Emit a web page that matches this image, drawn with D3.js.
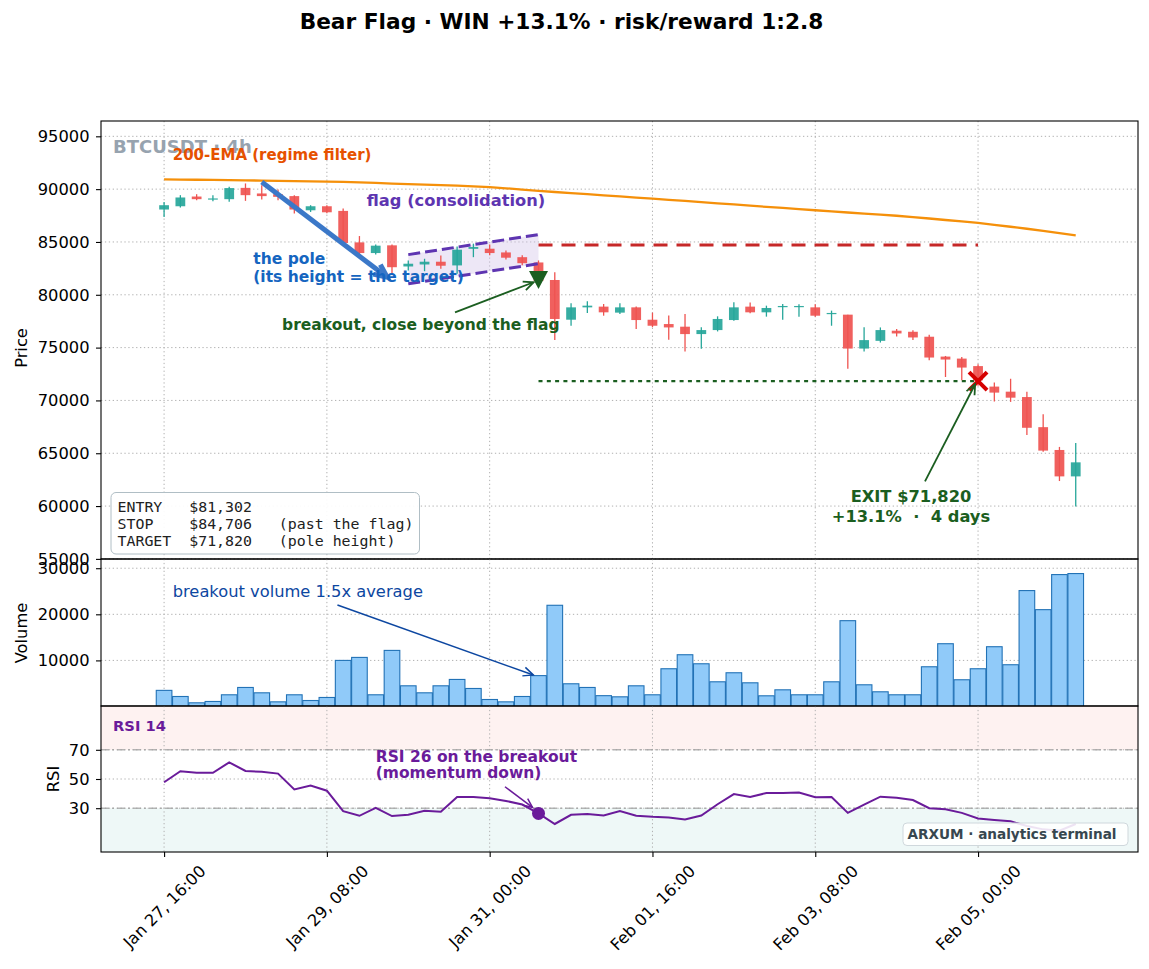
<!DOCTYPE html>
<html>
<head>
<meta charset="utf-8">
<script src="https://cdn.jsdelivr.net/npm/d3@7"></script>
<style>
  body { margin: 0; background: #fff; }
  text { font-family: "DejaVu Sans", sans-serif; }
</style>
</head>
<body>
<div id="chart"></div>
<script>
// ---- data ----
const startTime = "2025-01-27T16:00:00Z"
const stepHours = 4
const opens  = [88070,88380,89300,89050,89050,90120,89590,89520,89340,88000,88380,87940,84960,83950,84680,82680,82870,83130,82780,84350,84360,84010,83560,83060,81400,77640,78810,78880,78310,78810,77640,77230,76980,76280,76660,77610,78880,78340,78880,78880,78810,78200,78120,74910,75640,76600,76500,76030,74150,73960,73250,71310,70830,70320,67470,65310,62810]
const highs  = [88790,89430,89520,89430,90220,90540,90380,89970,89430,88480,88480,88170,85560,84770,84770,83250,83410,83730,84580,84840,84770,84200,83750,83250,82140,79190,79380,79130,79190,78880,78310,78050,78190,76930,77960,79290,79280,78970,79130,79100,79100,78500,78120,76930,76910,76760,76650,76220,74210,74120,73430,71690,72050,70830,68690,65600,65980]
const lows   = [87370,88260,88950,88860,88800,88890,89020,88950,87690,87840,87720,84770,83500,83820,81990,82300,82230,82460,81990,83560,83750,83350,82800,81100,75710,77070,78280,78020,78180,76760,76930,75750,74630,74880,76530,77550,78250,77930,77640,77930,77930,77070,73010,74630,75480,76050,75710,73800,72220,71900,71400,69910,69860,66720,65150,62370,59960]
const closes = [88480,89210,89050,89120,90100,89430,89340,89270,88070,88380,87810,84900,83950,84650,82610,82940,83130,82750,84270,84520,83950,83510,82990,81302,77710,78810,78970,78340,78810,77610,77070,76910,76280,76660,77710,78810,78340,78750,78940,78940,78020,78280,74910,75710,76660,76340,75960,74060,73870,73110,71900,70740,70260,67410,65250,62810,64140]
const volumes = [3500,2170,800,1090,2540,4130,2970,1010,2540,1300,1960,10000,10650,2540,12170,4490,2970,4490,5870,3910,1520,1010,2170,6700,21960,4930,4130,2350,2100,4490,2540,8190,11230,9270,5360,7320,5140,2320,3620,2540,2540,5360,18620,4710,3190,2540,2540,8620,13620,5800,8190,12970,9060,25150,21010,28620,28840]
const ema200 = [90920,90905,90890,90870,90850,90830,90810,90790,90765,90740,90710,90680,90640,90590,90530,90480,90430,90380,90330,90260,90190,90080,89960,89840,89730,89620,89520,89410,89310,89200,89100,88990,88880,88770,88660,88550,88430,88320,88220,88110,88000,87900,87790,87690,87590,87480,87350,87220,87080,86940,86800,86620,86440,86250,86050,85840,85630]
const rsi14 = [47.8,55.3,54.2,54.2,61.4,55.5,54.9,53.7,42.9,45.6,42.0,28.0,24.8,30.2,24.6,25.5,28.2,27.5,37.7,37.7,36.8,35.0,32.5,26.4,19.2,25.5,26.1,25.0,28.0,24.8,24.1,23.7,22.3,25.0,32.7,39.7,37.7,40.4,40.4,40.8,37.5,37.7,26.8,32.5,37.9,37.2,35.6,30.0,29.3,26.8,23.0,21.9,21.0,17.8,15.5,14.6,19.2]

const tickTimes = ["2025-01-27T16:00:00Z","2025-01-29T08:00:00Z","2025-01-31T00:00:00Z","2025-02-01T16:00:00Z","2025-02-03T08:00:00Z","2025-02-05T00:00:00Z"]
const priceTicks = [55000,60000,65000,70000,75000,80000,85000,90000,95000]
const volumeTicks = [10000,20000,30000]
const rsiTicks = [30,50,70]

// trade levels
const breakoutIndex = 23
const exitIndex = 50
const entryPrice = 81302
const stopPrice = 84706
const targetPrice = 71820
const flagStart = 15
const flagUpper = [83800, 85700]
const flagLower = [81040, 82940]

// ---- layout ----
width = 1149
height = 969
plotLeft = 101
plotRight = 1138
panels = {
  price: {top: 121, bottom: 559},
  vol: {top: 559, bottom: 706},
  rsi: {top: 706, bottom: 852}
}
up = "#26a69a"
down = "#ef5350"
gridColor = "#b0b0b0"
tickFont = 16.3

const hour = 3600e3
const t0 = new Date(startTime).getTime()
const at = i => new Date(t0 + i * stepHours * hour)
const times = opens.map((d, i) => at(i))

x = d3.scaleUtc()
  .domain([new Date(t0 - 15.5 * hour), new Date(t0 + 239.3 * hour)])
  .range([plotLeft, plotRight])
y = d3.scaleLinear().domain([54990, 96450]).range([panels.price.bottom, panels.price.top])
yVol = d3.scaleLinear().domain([0, 32000]).range([706.5, panels.vol.top])
yRsi = d3.scaleLinear().domain([0, 100]).range([panels.rsi.bottom, panels.rsi.top])

const svg = d3.select("#chart").append("svg")
  .attr("width", width)
  .attr("height", height)

const defs = svg.append("defs")
Object.entries(panels).forEach(([k, p]) => {
  defs.append("clipPath").attr("id", "clip-" + k)
    .append("rect")
    .attr("x", plotLeft).attr("y", p.top)
    .attr("width", plotRight - plotLeft).attr("height", p.bottom - p.top)
})

// title
svg.append("text")
  .attr("x", 561.5).attr("y", 29)
  .attr("text-anchor", "middle")
  .style("font-size", "21.7px").style("font-weight", "bold")
  .text("Bear Flag · WIN +13.1% · risk/reward 1:2.8")

function arrow(g, x1, y1, x2, y2, color, sw, len, half) {
  g.append("line")
    .attr("x1", x1).attr("y1", y1).attr("x2", x2).attr("y2", y2)
    .attr("stroke", color).attr("stroke-width", sw)
  const a = Math.atan2(y2 - y1, x2 - x1)
  const bx = x2 - len * Math.cos(a), by = y2 - len * Math.sin(a)
  const px = -Math.sin(a) * half, py = Math.cos(a) * half
  g.append("path")
    .attr("d", `M${bx + px},${by + py}L${x2},${y2}L${bx - px},${by - py}`)
    .attr("fill", "none").attr("stroke", color).attr("stroke-width", sw)
    .attr("stroke-linejoin", "miter")
}

function grid(key, yScale, ticks) {
  const p = panels[key]
  const g = svg.append("g")
    .attr("stroke", gridColor).attr("stroke-width", 1)
    .attr("stroke-dasharray", "1.3,2.6")
  g.selectAll(".vg").data(tickTimes).enter().append("line")
    .attr("x1", d => x(new Date(d))).attr("x2", d => x(new Date(d)))
    .attr("y1", p.top).attr("y2", p.bottom)
  g.selectAll(".hg").data(ticks).enter().append("line")
    .attr("x1", plotLeft).attr("x2", plotRight)
    .attr("y1", d => yScale(d)).attr("y2", d => yScale(d))
}

function leftAxis(yScale, ticks) {
  svg.append("g")
    .attr("transform", `translate(${plotLeft},0)`)
    .call(d3.axisLeft(yScale).tickValues(ticks).tickSize(5).tickPadding(6.5).tickFormat(d3.format("d")))
    .call(g => g.select(".domain").remove())
    .call(g => g.selectAll("text").style("font-size", tickFont + "px").style("font-family", "DejaVu Sans").attr("fill", "#000"))
    .call(g => g.selectAll("line").attr("stroke", "#000").attr("stroke-width", 1.1))
}

function frame(key) {
  const p = panels[key]
  svg.append("rect")
    .attr("x", plotLeft).attr("y", p.top)
    .attr("width", plotRight - plotLeft).attr("height", p.bottom - p.top)
    .attr("fill", "none").attr("stroke", "#000").attr("stroke-width", 1.1)
}

function yLabel(txt, cx, cy) {
  svg.append("text")
    .attr("transform", `translate(${cx + 5.8},${cy}) rotate(-90)`)
    .attr("text-anchor", "middle")
    .style("font-size", "16.3px")
    .text(txt)
}

// ================= PRICE PANEL =================
grid("price", y, priceTicks)
const priceG = svg.append("g").attr("clip-path", "url(#clip-price)")

// flag channel
const flagPts = [
  [at(flagStart), flagUpper[0]], [at(breakoutIndex), flagUpper[1]],
  [at(breakoutIndex), flagLower[1]], [at(flagStart), flagLower[0]]
]
priceG.append("path")
  .attr("d", d3.line().x(d => x(d[0])).y(d => y(d[1]))(flagPts) + "Z")
  .attr("fill", "#d1c4e9").attr("fill-opacity", 0.4)

// stop / target lines
priceG.append("line")
  .attr("x1", x(at(breakoutIndex))).attr("x2", x(at(exitIndex)))
  .attr("y1", y(stopPrice)).attr("y2", y(stopPrice))
  .attr("stroke", "#c62828").attr("stroke-width", 3).attr("stroke-dasharray", "14,9")
priceG.append("line")
  .attr("x1", x(at(breakoutIndex))).attr("x2", x(at(exitIndex)))
  .attr("y1", y(targetPrice)).attr("y2", y(targetPrice))
  .attr("stroke", "#1b5e20").attr("stroke-width", 2.2).attr("stroke-dasharray", "4,4.3")

// EMA
priceG.append("path")
  .datum(ema200)
  .attr("d", d3.line().x((d, i) => x(times[i])).y(d => y(d)))
  .attr("fill", "none").attr("stroke", "#f5900a").attr("stroke-width", 2.3)

// candles
const candles = times.map((t, i) => ({t, o: opens[i], h: highs[i], l: lows[i], c: closes[i]}))
const step = x(at(1)) - x(at(0))
const bodyW = step * 0.6
priceG.selectAll(".wick").data(candles).enter().append("line")
  .attr("x1", d => x(d.t)).attr("x2", d => x(d.t))
  .attr("y1", d => y(d.h)).attr("y2", d => y(d.l))
  .attr("stroke", d => d.c >= d.o ? up : down).attr("stroke-width", 1.3)
priceG.selectAll(".body").data(candles).enter().append("rect")
  .attr("x", d => x(d.t) - bodyW / 2)
  .attr("y", d => y(Math.max(d.o, d.c)))
  .attr("width", bodyW)
  .attr("height", d => Math.max(1.2, Math.abs(y(d.o) - y(d.c))))
  .attr("fill", d => d.c >= d.o ? up : down)
  .attr("fill-opacity", 0.92)

// flag dashed edges
priceG.append("line")
  .attr("x1", x(at(flagStart))).attr("y1", y(flagUpper[0]))
  .attr("x2", x(at(breakoutIndex))).attr("y2", y(flagUpper[1]))
  .attr("stroke", "#5e35b1").attr("stroke-width", 3).attr("stroke-dasharray", "12,5")
priceG.append("line")
  .attr("x1", x(at(flagStart))).attr("y1", y(flagLower[0]))
  .attr("x2", x(at(breakoutIndex))).attr("y2", y(flagLower[1]))
  .attr("stroke", "#5e35b1").attr("stroke-width", 3).attr("stroke-dasharray", "12,5")

// pole arrow
arrow(priceG, x(at(6)), y(90670), x(at(13.7)), y(81660), "#3b78c8", 5, 13, 6)

// entry marker
const ex = x(at(breakoutIndex)), ey = y(entryPrice)
priceG.append("path")
  .attr("d", `M${ex - 9.5},${ey - 10}L${ex + 9.5},${ey - 10}L${ex},${ey + 8}Z`)
  .attr("fill", "#1b5e20")

// exit marker
const xx = x(at(exitIndex)), xy = y(targetPrice)
priceG.append("path")
  .attr("d", `M${xx - 9},${xy - 9}L${xx + 9},${xy + 9}M${xx - 9},${xy + 9}L${xx + 9},${xy - 9}`)
  .attr("stroke", "#d50000").attr("stroke-width", 4)

// annotations
svg.append("text")
  .attr("x", plotLeft + 12).attr("y", panels.price.top + 32)
  .style("font-size", "18px").style("font-weight", "bold").attr("fill", "#97a3af")
  .text("BTCUSDT · 4h")
svg.append("text")
  .attr("x", x(at(0.53))).attr("y", y(92757))
  .style("font-size", "15px").style("font-weight", "bold").attr("fill", "#e65100")
  .text("200-EMA (regime filter)")
svg.append("text")
  .attr("x", x(at(12.45))).attr("y", y(88413))
  .style("font-size", "16.3px").style("font-weight", "bold").attr("fill", "#5e35b1")
  .text("flag (consolidation)")
const poleText = svg.append("text")
  .attr("x", x(at(5.48))).attr("y", y(82870))
  .style("font-size", "15.5px").style("font-weight", "bold").attr("fill", "#1565c0")
poleText.append("tspan").text("the pole")
poleText.append("tspan").attr("x", x(at(5.48))).attr("dy", 17.5).text("(its height = the target)")

arrow(svg, x(at(17.87)), y(78336), x(at(22.7)), y(81188), "#1b5e20", 1.8, 10, 4.5)
svg.append("text")
  .attr("x", x(at(7.25))).attr("y", y(76645))
  .style("font-size", "15.5px").style("font-weight", "bold").attr("fill", "#1b5e20")
  .text("breakout, close beyond the flag")

arrow(svg, x(at(46.74)), y(62337), x(at(49.82)), y(71530), "#1b5e20", 1.8, 10, 4.5)
const exitText = svg.append("text")
  .attr("x", x(at(45.88))).attr("y", y(60370))
  .attr("text-anchor", "middle")
  .style("font-size", "16.3px").style("font-weight", "bold").attr("fill", "#1b5e20")
  .style("white-space", "pre")
exitText.append("tspan").text("EXIT $" + d3.format(",")(targetPrice))
exitText.append("tspan").attr("x", x(at(45.88))).attr("dy", 20).text("+13.1%  ·  4 days")

// trade box
const boxLines = [
  "ENTRY   $" + d3.format(",")(entryPrice),
  "STOP    $" + d3.format(",")(stopPrice) + "   (past the flag)",
  "TARGET  $" + d3.format(",")(targetPrice) + "   (pole height)"
]
svg.append("rect")
  .attr("x", plotLeft + 10).attr("y", panels.price.bottom - 66.5)
  .attr("width", 308.5).attr("height", 61.5).attr("rx", 5)
  .attr("fill", "#fff").attr("fill-opacity", 0.92)
  .attr("stroke", "#b0bec5").attr("stroke-width", 1)
svg.append("g").selectAll("text").data(boxLines).enter().append("text")
  .attr("x", plotLeft + 16.5)
  .attr("y", (d, i) => panels.price.bottom - 47.5 + i * 17)
  .style("font-family", "'DejaVu Sans Mono', monospace").style("font-size", "14.9px")
  .style("white-space", "pre").attr("fill", "#212121")
  .text(d => d)

leftAxis(y, priceTicks)
frame("price")
yLabel("Price", 21, 348)

// ================= VOLUME PANEL =================
grid("vol", yVol, volumeTicks)
const volG = svg.append("g").attr("clip-path", "url(#clip-vol)")
const barW = step * 0.96
volG.selectAll("rect").data(volumes).enter().append("rect")
  .attr("x", (d, i) => x(times[i]) - barW / 2)
  .attr("y", d => yVol(d))
  .attr("width", barW)
  .attr("height", d => yVol(0) - yVol(d))
  .attr("fill", "#90caf9")
  .attr("stroke", "#2272b6").attr("stroke-width", 1.1)

arrow(svg, x(at(10.65)), yVol(22018), x(at(22.68)), yVol(6833), "#0d47a1", 1.5, 10, 4.5)
svg.append("text")
  .attr("x", x(at(0.53))).attr("y", yVol(23690))
  .style("font-size", "16.3px").attr("fill", "#0d47a1")
  .text("breakout volume 1.5x average")

leftAxis(yVol, volumeTicks)
frame("vol")
yLabel("Volume", 21, 633)

// ================= RSI PANEL =================
const rsiBg = svg.append("g")
rsiBg.append("rect")
  .attr("x", plotLeft).attr("width", plotRight - plotLeft)
  .attr("y", yRsi(100)).attr("height", yRsi(70) - yRsi(100))
  .attr("fill", down).attr("fill-opacity", 0.08)
rsiBg.append("rect")
  .attr("x", plotLeft).attr("width", plotRight - plotLeft)
  .attr("y", yRsi(30)).attr("height", yRsi(0) - yRsi(30))
  .attr("fill", up).attr("fill-opacity", 0.08)
grid("rsi", yRsi, rsiTicks)
svg.append("g").selectAll("line").data([70, 30]).enter().append("line")
  .attr("x1", plotLeft).attr("x2", plotRight)
  .attr("y1", d => yRsi(d)).attr("y2", d => yRsi(d))
  .attr("stroke", "#9e9e9e").attr("stroke-opacity", 0.75).attr("stroke-width", 1.5)
  .attr("stroke-dasharray", "8,3,2,3")

const rsiG = svg.append("g").attr("clip-path", "url(#clip-rsi)")
rsiG.append("path")
  .datum(rsi14)
  .attr("d", d3.line().x((d, i) => x(times[i])).y(d => yRsi(d)))
  .attr("fill", "none").attr("stroke", "#6a1b9a").attr("stroke-width", 2)
rsiG.append("circle")
  .attr("cx", x(times[breakoutIndex])).attr("cy", yRsi(rsi14[breakoutIndex]))
  .attr("r", 6.5).attr("fill", "#6a1b9a")

arrow(svg, x(at(20.94)), yRsi(44.7), x(at(22.63)), yRsi(30.6), "#6a1b9a", 1.5, 9, 4)
const rsiText = svg.append("text")
  .attr("x", x(at(13.0))).attr("y", yRsi(61.8))
  .style("font-size", "15.5px").style("font-weight", "bold").attr("fill", "#6a1b9a")
rsiText.append("tspan").text("RSI " + Math.round(rsi14[breakoutIndex]) + " on the breakout")
rsiText.append("tspan").attr("x", x(at(13.0))).attr("dy", 16.6).text("(momentum down)")

svg.append("text")
  .attr("x", plotLeft + 12).attr("y", panels.rsi.top + 24.7)
  .style("font-size", "14.7px").style("font-weight", "bold").attr("fill", "#6a1b9a")
  .text("RSI 14")

// watermark box
svg.append("rect")
  .attr("x", 903).attr("y", panels.rsi.bottom - 29)
  .attr("width", 225).attr("height", 22.5).attr("rx", 4)
  .attr("fill", "#fff").attr("fill-opacity", 0.88)
  .attr("stroke", "#cfd8dc").attr("stroke-width", 1)
svg.append("text")
  .attr("x", 907.5).attr("y", panels.rsi.bottom - 12.7)
  .style("font-size", "13.6px").style("font-weight", "bold").attr("fill", "#37474f")
  .text("ARXUM · analytics terminal")

leftAxis(yRsi, rsiTicks)
frame("rsi")
yLabel("RSI", 53, 779)

// ---- shared time axis ----
const fmt = d3.utcFormat("%b %d, %H:%M")
const xAxisG = svg.append("g")
  .attr("transform", `translate(0,${panels.rsi.bottom})`)
  .call(d3.axisBottom(x).tickValues(tickTimes.map(d => new Date(d))).tickSize(5).tickFormat(fmt))
xAxisG.select(".domain").remove()
xAxisG.selectAll("line").attr("stroke", "#000").attr("stroke-width", 1.1)
xAxisG.selectAll("text")
  .style("font-size", tickFont + "px").style("font-family", "DejaVu Sans").attr("fill", "#000")
  .attr("y", 0).attr("dy", null)
  .attr("text-anchor", "middle")
  .attr("dominant-baseline", "central")
  .attr("transform", function () {
    const L = this.getComputedTextLength()
    const H = (L + tickFont * 1.16) * Math.SQRT1_2
    return `translate(0,${9.7 + H / 2}) rotate(-45)`
  })
</script>
</body>
</html>
